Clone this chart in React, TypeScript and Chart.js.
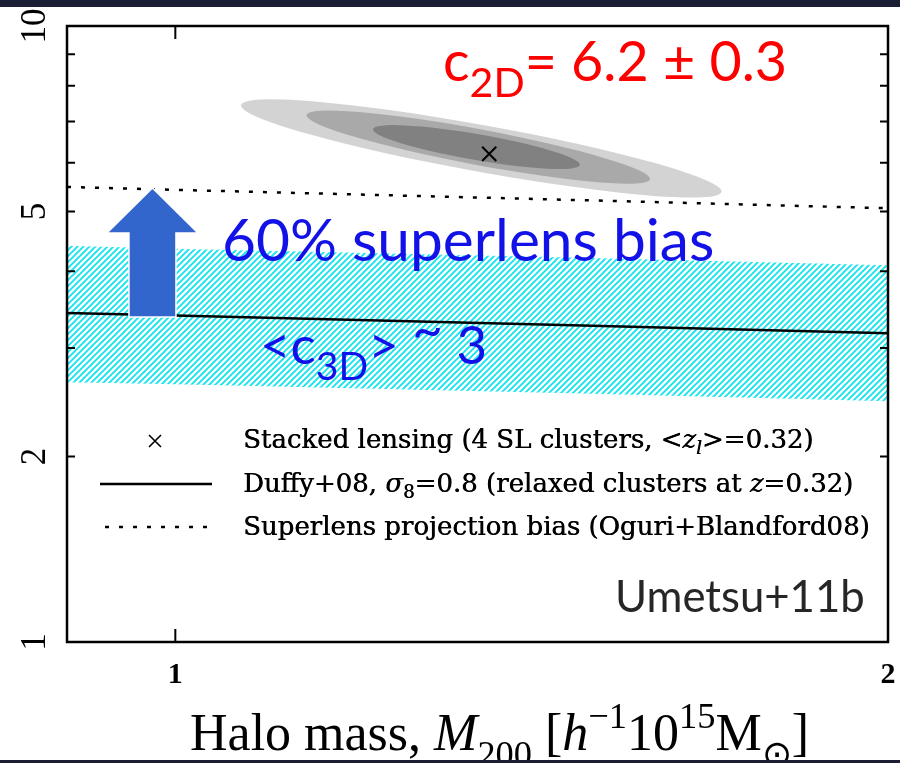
import React, { useEffect, useRef } from "react";
import { Chart, registerables } from "chart.js";

Chart.register(...registerables);

// ---- data (halo mass in h^-1 10^15 Msun, concentration c) ----
const massGrid = [0.9, 1.0, 1.5, 2.0];
const duffyC = [3.42, 3.39, 3.26, 3.17];
const superlensC = [5.48, 5.42, 5.21, 5.06];
const bandUpperC = [4.4, 4.35, 4.2, 4.09];
const bandLowerC = [2.64, 2.62, 2.53, 2.46];

const stackedMass = [1.357];
const stackedC = [6.2];

// confidence contours: tips of each ellipse (mass, c) and half-width in dex
const contourMassLo = [1.066, 1.136, 1.212];
const contourCLo = [7.44, 7.17, 6.8];
const contourMassHi = [1.701, 1.587, 1.482];
const contourCHi = [5.38, 5.64, 5.95];
const contourHalfWidthDex = [0.038, 0.029, 0.021];

// arrow from the relaxed-cluster relation up to the superlens prediction
const arrowMass = 0.978;
const arrowFromC = 3.37;
const arrowToC = 5.46;

// ---- axes ----
const xRange = [0.9, 2];
const yRange = [1, 10];
const xTickValues = [1, 2];
const yTickValues = [1, 2, 5, 10];
const yMinorTickValues = [3, 4, 6, 7, 8, 9];

type Seg = { text: string; italic?: boolean; scale?: number; shift?: number };

const SERIF = '"DejaVu Serif", "Liberation Serif", serif';
const TIMES = '"Liberation Serif", serif';
const SANS = 'Lato, "Open Sans", "Liberation Sans", sans-serif';

const legendRows: Seg[][] = [
  [
    { text: "Stacked lensing (4 SL clusters, <" },
    { text: "z", italic: true },
    { text: "l", italic: true, scale: 0.7, shift: 0.25 },
    { text: ">=0.32)" },
  ],
  [
    { text: "Duffy+08, " },
    { text: "σ", italic: true },
    { text: "8", scale: 0.7, shift: 0.25 },
    { text: "=0.8 (relaxed clusters at " },
    { text: "z", italic: true },
    { text: "=0.32)" },
  ],
  [{ text: "Superlens projection bias (Oguri+Blandford08)" }],
];

const xTitle: Seg[] = [
  { text: "Halo mass, " },
  { text: "M", italic: true },
  { text: "200", scale: 0.7, shift: 0.3 },
  { text: " [" },
  { text: "h", italic: true },
  { text: "−1", scale: 0.7, shift: -0.42 },
  { text: "10" },
  { text: "15", scale: 0.7, shift: -0.42 },
  { text: "M" },
  { text: "⊙", scale: 0.7, shift: 0.3 },
  { text: "]" },
];

const c2dLabel: Seg[] = [
  { text: "c" },
  { text: "2D", scale: 0.74, shift: 0.28 },
  { text: "= 6.2 ± 0.3" },
];
const c3dLabel: Seg[] = [
  { text: "<c" },
  { text: "3D", scale: 0.74, shift: 0.3 },
  { text: "> " },
  { text: "~", shift: -0.3 },
  { text: " 3" },
];

function segFont(s: Seg, size: number, family: string, weight: string) {
  const px = Math.round(size * (s.scale ?? 1) * 10) / 10;
  return `${s.italic ? "italic " : ""}${weight} ${px}px ${family}`;
}

function richWidth(ctx: CanvasRenderingContext2D, segs: Seg[], size: number, family: string, weight = "normal") {
  let w = 0;
  for (const s of segs) {
    ctx.font = segFont(s, size, family, weight);
    w += ctx.measureText(s.text).width;
  }
  return w;
}

function fitSize(ctx: CanvasRenderingContext2D, segs: Seg[], family: string, width: number, weight = "normal") {
  return (100 * width) / richWidth(ctx, segs, 100, family, weight);
}

function drawRich(
  ctx: CanvasRenderingContext2D,
  segs: Seg[],
  x: number,
  y: number,
  size: number,
  family: string,
  color: string,
  weight = "normal"
) {
  ctx.fillStyle = color;
  ctx.textAlign = "left";
  ctx.textBaseline = "alphabetic";
  let cx = x;
  for (const s of segs) {
    ctx.font = segFont(s, size, family, weight);
    ctx.fillText(s.text, cx, y + (s.shift ?? 0) * size);
    cx += ctx.measureText(s.text).width;
  }
}

function makeHatch(): CanvasPattern | string {
  const tile = document.createElement("canvas");
  tile.width = 6;
  tile.height = 6;
  const t = tile.getContext("2d");
  if (!t) return "#22e0ee";
  t.strokeStyle = "#14e4f0";
  t.lineWidth = 1.9;
  t.beginPath();
  t.moveTo(-1, 7);
  t.lineTo(7, -1);
  t.moveTo(-4, 4);
  t.lineTo(4, -4);
  t.moveTo(2, 10);
  t.lineTo(10, 2);
  t.stroke();
  const p = t.createPattern(tile, "repeat");
  return p ?? "#22e0ee";
}

const pts = (xs: number[], ys: number[]) => xs.map((x, i) => ({ x, y: ys[i] }));

const decorations = {
  id: "decorations",
  beforeDraw(chart: any) {
    const ctx: CanvasRenderingContext2D = chart.ctx;
    ctx.save();
    ctx.fillStyle = "#ffffff";
    ctx.fillRect(0, 0, chart.width, chart.height);
    ctx.restore();
  },
  beforeDatasetsDraw(chart: any) {
    const ctx: CanvasRenderingContext2D = chart.ctx;
    const xs = chart.scales.x;
    const ys = chart.scales.y;
    const pxPerDex = ys.getPixelForValue(1) - ys.getPixelForValue(10);
    const fills = ["#d3d3d3", "#a9a9a9", "#818181"];
    ctx.save();
    contourMassLo.forEach((m, i) => {
      const x1 = xs.getPixelForValue(m);
      const y1 = ys.getPixelForValue(contourCLo[i]);
      const x2 = xs.getPixelForValue(contourMassHi[i]);
      const y2 = ys.getPixelForValue(contourCHi[i]);
      const a = Math.hypot(x2 - x1, y2 - y1) / 2;
      const b = contourHalfWidthDex[i] * pxPerDex;
      ctx.beginPath();
      ctx.ellipse((x1 + x2) / 2, (y1 + y2) / 2, a, b, Math.atan2(y2 - y1, x2 - x1), 0, Math.PI * 2);
      ctx.fillStyle = fills[i];
      ctx.fill();
    });
    ctx.restore();
  },
  afterDatasetsDraw(chart: any) {
    const ctx: CanvasRenderingContext2D = chart.ctx;
    const xs = chart.scales.x;
    const ys = chart.scales.y;
    const area = chart.chartArea;
    ctx.save();

    // arrow
    const ax = xs.getPixelForValue(arrowMass);
    const yb = ys.getPixelForValue(arrowFromC);
    const yt = ys.getPixelForValue(arrowToC);
    const headH = 45;
    const headHalf = 45.5;
    const shaftHalf = 23.5;
    ctx.beginPath();
    ctx.moveTo(ax - shaftHalf, yb);
    ctx.lineTo(ax - shaftHalf, yt + headH);
    ctx.lineTo(ax - headHalf, yt + headH);
    ctx.lineTo(ax, yt);
    ctx.lineTo(ax + headHalf, yt + headH);
    ctx.lineTo(ax + shaftHalf, yt + headH);
    ctx.lineTo(ax + shaftHalf, yb);
    ctx.closePath();
    ctx.fillStyle = "#3366cc";
    ctx.fill();
    ctx.strokeStyle = "#ffffff";
    ctx.lineWidth = 1.5;
    ctx.stroke();

    // annotations
    const s1 = fitSize(ctx, c2dLabel, SANS, 344);
    drawRich(ctx, c2dLabel, 443, 81, s1, SANS, "#ff0000");
    const bias = [{ text: "60% superlens bias" }];
    const s2 = fitSize(ctx, bias, SANS, 492);
    drawRich(ctx, bias, 222, 261, s2, SANS, "#1212e8");
    const s3 = fitSize(ctx, c3dLabel, SANS, 227);
    drawRich(ctx, c3dLabel, 260, 364, s3, SANS, "#1212e8");
    const um = [{ text: "Umetsu+11b" }];
    const s4 = fitSize(ctx, um, SANS, 250);
    drawRich(ctx, um, 615, 612, s4, SANS, "#262626");

    // legend
    const ls = fitSize(ctx, legendRows[0], SERIF, 570);
    const rowBase = [448, 492, 535];
    legendRows.forEach((row, i) => {
      drawRich(ctx, row, 243, rowBase[i], ls, SERIF, "#000000");
      drawRich(ctx, row, 243.5, rowBase[i], ls, SERIF, "#000000");
    });
    ctx.strokeStyle = "#000";
    ctx.lineWidth = 1.6;
    ctx.beginPath();
    ctx.moveTo(149, 435);
    ctx.lineTo(161, 447);
    ctx.moveTo(161, 435);
    ctx.lineTo(149, 447);
    ctx.stroke();
    ctx.lineWidth = 2.5;
    ctx.beginPath();
    ctx.moveTo(100, 484);
    ctx.lineTo(212, 484);
    ctx.stroke();
    ctx.setLineDash([4, 10]);
    ctx.beginPath();
    ctx.moveTo(105, 527);
    ctx.lineTo(210, 527);
    ctx.stroke();
    ctx.setLineDash([]);

    // frame
    ctx.lineWidth = 2.5;
    ctx.strokeStyle = "#000";
    ctx.strokeRect(area.left, area.top, area.right - area.left, area.bottom - area.top);

    // ticks
    ctx.lineWidth = 2;
    ctx.beginPath();
    [...yTickValues, ...yMinorTickValues].forEach((v) => {
      const y = ys.getPixelForValue(v);
      ctx.moveTo(area.left, y);
      ctx.lineTo(area.left + 8, y);
      ctx.moveTo(area.right, y);
      ctx.lineTo(area.right - 8, y);
    });
    xTickValues.forEach((v) => {
      const x = xs.getPixelForValue(v);
      ctx.moveTo(x, area.bottom);
      ctx.lineTo(x, area.bottom - 13);
      ctx.moveTo(x, area.top);
      ctx.lineTo(x, area.top + 13);
    });
    ctx.stroke();

    // tick labels
    ctx.fillStyle = "#000";
    ctx.font = `35px ${TIMES}`;
    ctx.textAlign = "center";
    ctx.textBaseline = "alphabetic";
    yTickValues.forEach((v) => {
      const y = ys.getPixelForValue(v);
      ctx.save();
      ctx.translate(45, y);
      ctx.rotate(-Math.PI / 2);
      ctx.fillText(String(v), 0, 0);
      ctx.restore();
    });
    ctx.font = `bold 30px ${TIMES}`;
    xTickValues.forEach((v) => {
      ctx.fillText(String(v), xs.getPixelForValue(v), 683);
    });

    // axis title
    const ts = fitSize(ctx, xTitle, TIMES, 620);
    drawRich(ctx, xTitle, 190, 750, ts, TIMES, "#000000");

    // dark slide bands top and bottom
    ctx.fillStyle = "#1b1f33";
    ctx.fillRect(0, 0, chart.width, 7);
    ctx.fillRect(0, chart.height - 3, chart.width, 3);
    ctx.restore();
  },
};

export default function App() {
  const ref = useRef<HTMLCanvasElement>(null);

  useEffect(() => {
    document.body.style.margin = "0";
    const canvas = ref.current;
    if (!canvas) return;
    const hatch = makeHatch();
    const chart = new Chart(canvas, {
      type: "scatter",
      data: {
        datasets: [
          {
            label: "band lower",
            data: pts(massGrid, bandLowerC),
            showLine: true,
            borderColor: "transparent",
            pointRadius: 0,
            fill: false,
            order: 4,
          },
          {
            label: "<c3D> ~ 3",
            data: pts(massGrid, bandUpperC),
            showLine: true,
            borderColor: "transparent",
            backgroundColor: hatch as any,
            pointRadius: 0,
            fill: "-1",
            order: 3,
          },
          {
            label: "Duffy+08",
            data: pts(massGrid, duffyC),
            showLine: true,
            borderColor: "#000000",
            borderWidth: 2.5,
            pointRadius: 0,
            order: 1,
          },
          {
            label: "Superlens projection bias",
            data: pts(massGrid, superlensC),
            showLine: true,
            borderColor: "#000000",
            borderWidth: 2.5,
            borderDash: [4, 10],
            pointRadius: 0,
            order: 2,
          },
          {
            label: "Stacked lensing",
            data: pts(stackedMass, stackedC),
            pointStyle: "crossRot",
            pointRadius: 10,
            borderColor: "#000000",
            borderWidth: 2,
            order: 0,
          },
        ],
      },
      options: {
        animation: false,
        responsive: false,
        devicePixelRatio: 1,
        events: [],
        layout: { padding: { left: 67, top: 26, right: 5, bottom: 121 } },
        plugins: { legend: { display: false }, tooltip: { enabled: false } },
        scales: {
          x: { type: "logarithmic", min: xRange[0], max: xRange[1], display: false },
          y: { type: "logarithmic", min: yRange[0], max: yRange[1], display: false },
        },
      },
      plugins: [decorations],
    });
    return () => chart.destroy();
  }, []);

  return <canvas ref={ref} width={900} height={763} style={{ display: "block", width: 900, height: 763 }} />;
}
